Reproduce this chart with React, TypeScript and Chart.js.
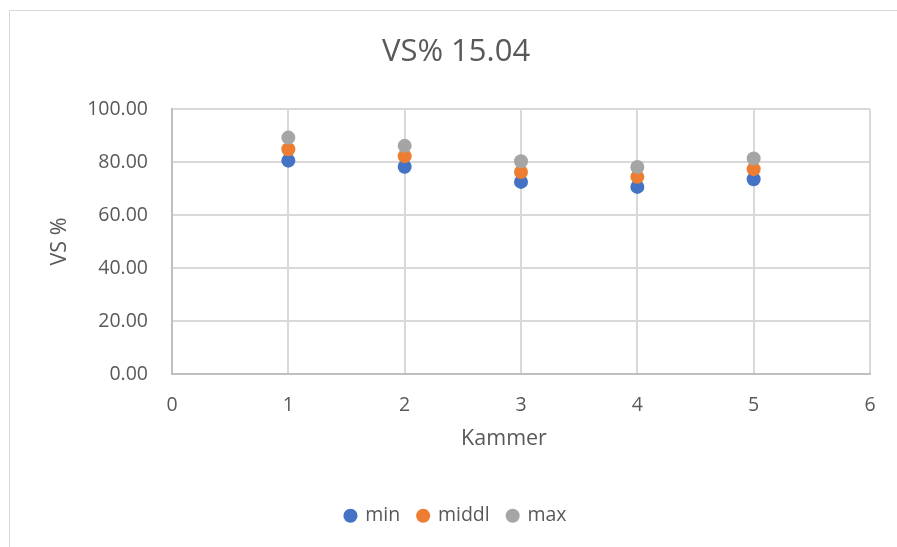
import React, { useEffect, useRef } from "react";
import { Chart, registerables } from "chart.js";

Chart.register(...registerables);

// Chamber numbers (x) and VS % readings per chamber
const kammer = [1, 2, 3, 4, 5];
const minValues = [80.5, 78.2, 72.5, 70.6, 73.5];
const middlValues = [84.8, 82.2, 76.2, 74.4, 77.3];
const maxValues = [89.2, 86.1, 80.3, 78.1, 81.3];

const xTicks = [0, 1, 2, 3, 4, 5, 6];
const yTicks = [0, 20, 40, 60, 80, 100];

const xAxisTitle = "Kammer";

const FONT = "'Open Sans', 'Noto Sans', sans-serif";
const TEXT = "#595959";

const toPoints = (vals: number[]) => kammer.map((k, i) => ({ x: k, y: vals[i] }));

// x-axis title drawn centred between the plot's left edge and the chart's middle
const xTitlePlugin = {
  id: "xTitle",
  afterDraw(chart: any) {
    const { ctx, chartArea } = chart;
    const cx = (chartArea.left + chartArea.right) / 2 - 17;
    ctx.save();
    ctx.fillStyle = TEXT;
    ctx.font = `21.5px ${FONT}`;
    ctx.textAlign = "center";
    ctx.textBaseline = "middle";
    ctx.fillText(xAxisTitle, cx, chartArea.bottom + 65);
    ctx.restore();
  },
};

export default function App() {
  const canvasRef = useRef<HTMLCanvasElement | null>(null);

  useEffect(() => {
    const canvas = canvasRef.current;
    if (!canvas) return;
    const chart = new Chart(canvas, {
      type: "scatter",
      data: {
        datasets: [
          {
            label: "min",
            data: toPoints(minValues),
            backgroundColor: "#4472C4",
            borderColor: "#4472C4",
            pointRadius: 7,
            pointHoverRadius: 7,
            borderWidth: 0,
            order: 3,
          },
          {
            label: "middl",
            data: toPoints(middlValues),
            backgroundColor: "#ED7D31",
            borderColor: "#ED7D31",
            pointRadius: 7,
            pointHoverRadius: 7,
            borderWidth: 0,
            order: 2,
          },
          {
            label: "max",
            data: toPoints(maxValues),
            backgroundColor: "#A5A5A5",
            borderColor: "#A5A5A5",
            pointRadius: 7,
            pointHoverRadius: 7,
            borderWidth: 0,
            order: 1,
          },
        ],
      },
      options: {
        animation: false,
        responsive: true,
        maintainAspectRatio: false,
        layout: { padding: { left: 42, right: 27, top: 0, bottom: 11.5 } },
        plugins: {
          tooltip: { enabled: false },
          title: {
            display: true,
            text: "VS% 15.04",
            color: TEXT,
            font: { family: FONT, size: 31, weight: "normal", lineHeight: 1.2 },
            padding: { top: 34, bottom: 37.8 },
          },
          legend: {
            position: "bottom",
            labels: {
              usePointStyle: true,
              pointStyle: "circle",
              boxWidth: 10,
              boxHeight: 10,
              padding: 18,
              color: TEXT,
              font: { family: FONT, size: 19.5 },
              sort: (a: any, b: any) => a.datasetIndex - b.datasetIndex,
            },
          },
        },
        scales: {
          x: {
            type: "linear",
            min: 0,
            max: 6,
            afterBuildTicks: (s: any) => {
              s.ticks = xTicks.map((v) => ({ value: v }));
            },
            afterFit: (s: any) => {
              s.height = 114;
            },
            grid: { color: "#d9d9d9", lineWidth: 2, drawTicks: false },
            border: { color: "#bfbfbf", width: 2 },
            ticks: {
              padding: 20,
              color: TEXT,
              font: { family: FONT, size: 19.5 },
            },
            title: { display: false },
          },
          y: {
            type: "linear",
            min: 0,
            max: 100,
            afterBuildTicks: (s: any) => {
              s.ticks = yTicks.map((v) => ({ value: v }));
            },
            afterFit: (s: any) => {
              s.width = 130;
            },
            grid: { color: "#d9d9d9", lineWidth: 2, drawTicks: false },
            border: { color: "#bfbfbf", width: 2 },
            ticks: {
              padding: 24,
              color: TEXT,
              font: { family: FONT, size: 19.5 },
              callback: (v: any) => Number(v).toFixed(2),
            },
            title: {
              display: true,
              text: "VS %",
              color: TEXT,
              font: { family: FONT, size: 21.5, lineHeight: 1.2 },
              padding: { top: 5, bottom: 0 },
            },
          },
        },
      },
      plugins: [xTitlePlugin],
    });
    return () => chart.destroy();
  }, []);

  return (
    <div
      style={{
        position: "absolute",
        left: 0,
        top: 0,
        width: 897,
        height: 547,
        overflow: "hidden",
        background: "#ffffff",
      }}
    >
      <div
        style={{
          position: "absolute",
          left: 9,
          top: 10,
          width: 920,
          height: 600,
          borderLeft: "1px solid #d9d9d9",
          borderTop: "1px solid #d9d9d9",
        }}
      />
      <div style={{ position: "absolute", left: 0, top: 0, width: 897, height: 547 }}>
        <canvas ref={canvasRef} />
      </div>
    </div>
  );
}
